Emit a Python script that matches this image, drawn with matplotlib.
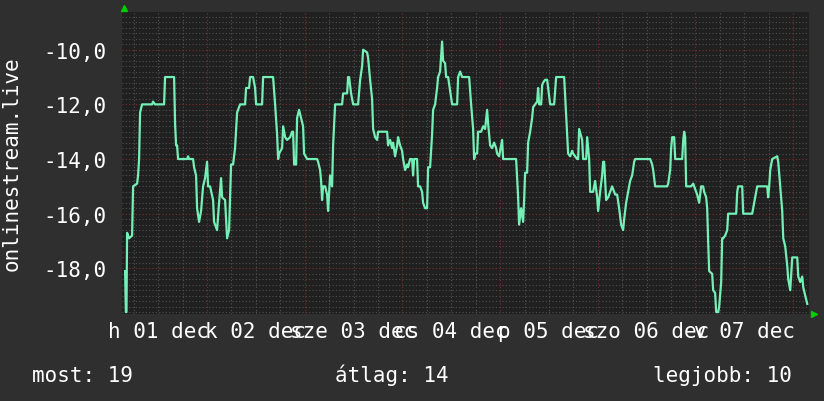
import matplotlib
matplotlib.use("Agg")
import matplotlib.pyplot as plt

# hours since 2025-12-01 00:00 and position (negated rank)
hours = [3.86, 4.05, 4.2, 4.35, 4.84, 5.58, 5.82, 6.81, 7.05, 7.30, 7.54, 8.03,
         10.49, 10.73, 11.23, 13.44, 13.68, 15.90, 16.14, 16.39, 16.63, 16.88,
         19.10, 19.34, 19.58, 20.56, 20.81, 21.30, 21.55, 22.04, 22.53, 23.02,
         23.51, 24.00, 24.25, 24.74, 25.48, 25.72, 26.46, 26.95, 27.44, 27.69,
         28.43, 28.92, 29.41, 29.90, 30.39, 30.88, 31.38, 32.11, 33.34, 33.59,
         34.32, 34.57, 35.31, 35.80, 36.05, 37.52, 37.77, 40.22, 40.72, 41.21,
         41.46, 41.70, 42.44, 42.69, 43.18, 43.67, 44.41, 44.90, 45.14, 45.39,
         45.88, 46.12, 46.61, 47.10, 47.59, 47.84, 48.58, 51.03, 51.28, 51.77,
         52.02, 52.26, 52.51, 53.00, 53.49, 53.74, 54.23, 54.72, 54.97, 55.46,
         57.18, 57.43, 58.41, 58.66, 58.90, 59.39, 59.89, 61.11, 61.61, 62.10,
         62.34, 63.33, 63.57, 64.06, 64.55, 64.80, 65.29, 65.78, 66.03, 68.24,
         68.48, 68.98, 69.47, 69.71, 70.20, 70.70, 70.94, 71.43, 71.92, 72.17,
         72.66, 73.15, 73.39, 73.88, 74.38, 74.62, 74.87, 75.60, 75.85, 76.34,
         76.83, 77.08, 77.57, 78.06, 78.31, 78.80, 79.29, 79.54, 80.03, 80.52,
         80.77, 81.26, 81.75, 82.00, 82.49, 82.74, 83.23, 83.72, 84.21, 85.44,
         85.69, 86.18, 86.67, 88.39, 88.88, 89.37, 89.62, 89.87, 90.36, 90.60,
         91.34, 91.83, 92.32, 92.81, 93.06, 93.55, 94.04, 94.53, 95.02, 95.27,
         95.76, 96.25, 96.50, 96.74, 99.94, 100.18, 100.43, 100.67, 101.16, 101.66,
         101.90, 102.15, 102.64, 102.89, 103.38, 103.87, 104.12, 104.61, 105.10, 105.35,
         105.59, 106.09, 106.33, 106.58, 107.07, 107.56, 107.81, 108.30, 109.28, 109.77,
         111.74, 112.23, 112.72, 113.21, 113.70, 113.95, 114.44, 114.93, 115.18, 115.42,
         116.16, 116.41, 117.14, 117.39, 117.88, 118.13, 118.86, 119.35, 119.85, 120.09,
         120.58, 121.07, 121.32, 121.57, 122.06, 122.55, 123.53, 123.78, 124.27, 124.76,
         125.25, 125.74, 126.23, 126.48, 126.97, 127.46, 127.95, 128.45, 128.94, 129.18,
         132.87, 133.36, 133.61, 134.10, 137.05, 137.30, 137.79, 138.03, 138.28, 138.77,
         139.02, 140.74, 141.00, 141.23, 141.47, 141.72, 142.21, 142.95, 143.44, 143.68,
         144.17, 144.42, 144.91, 145.40, 145.89, 146.14, 146.63, 146.88, 147.12, 147.37,
         148.11, 148.35, 148.84, 149.09, 149.58, 149.83, 150.32, 150.57, 150.81, 151.30,
         151.80, 152.04, 154.01, 154.26, 154.50, 155.49, 155.73, 157.94, 158.19, 158.68,
         159.17, 161.63, 161.87, 162.12, 162.37, 162.86, 164.09, 164.34, 164.83, 165.32,
         165.57, 166.06, 166.55, 166.80, 167.29, 167.78, 168.03, 169.01, 169.26, 169.75,
         170.24, 170.49, 170.98, 171.47]
rank = [-18.1, -19.6, -19.6, -16.7, -16.9, -16.8, -15.0, -14.9, -14.6, -14.0, -12.3, -12.0,
        -12.0, -11.9, -12.0, -12.0, -11.0, -11.0, -12.7, -13.5, -13.5, -14.0,
        -14.0, -13.9, -14.0, -14.0, -14.3, -14.6, -15.8, -16.3, -15.9, -15.0,
        -14.7, -14.1, -15.0, -15.0, -15.5, -16.3, -16.6, -15.6, -14.7, -15.4,
        -15.5, -16.9, -16.6, -14.2, -14.2, -13.6, -12.3, -12.0, -12.0, -11.4,
        -11.4, -11.0, -11.0, -11.4, -12.0, -12.0, -11.0, -11.0, -12.0, -13.1,
        -14.0, -13.8, -13.6, -12.8, -13.2, -13.3, -13.2, -13.0, -13.0, -14.2,
        -14.2, -12.5, -12.2, -12.5, -12.8, -13.8, -14.0, -14.0, -14.1, -14.4,
        -14.8, -15.5, -15.0, -15.0, -15.3, -15.9, -14.6, -15.0, -13.5, -12.0,
        -12.0, -11.6, -11.6, -11.0, -11.0, -11.6, -12.0, -12.0, -11.1, -10.6,
        -10.0, -10.1, -10.3, -11.1, -11.8, -12.9, -13.2, -13.3, -13.0, -13.0,
        -13.5, -13.3, -13.6, -13.4, -13.9, -13.5, -13.2, -13.5, -13.7, -14.0,
        -14.4, -14.2, -14.3, -14.0, -14.0, -14.6, -14.0, -14.0, -15.0, -15.0,
        -15.2, -15.6, -15.8, -15.8, -14.3, -14.3, -13.1, -12.2, -12.0, -11.4,
        -11.0, -10.8, -9.7, -10.4, -10.5, -11.0, -11.0, -11.5, -12.0, -12.0,
        -11.0, -10.8, -11.0, -11.0, -12.0, -12.9, -14.0, -13.8, -13.8, -13.0,
        -13.0, -12.8, -12.9, -12.2, -12.7, -13.5, -13.6, -13.4, -13.6, -13.8,
        -13.9, -13.5, -13.3, -14.0, -14.0, -14.7, -15.4, -16.4, -15.8, -16.3,
        -15.5, -14.5, -14.5, -13.4, -13.0, -12.5, -12.1, -12.0, -11.9, -11.4,
        -12.0, -12.0, -11.3, -11.2, -11.1, -11.1, -11.4, -12.0, -12.0, -11.0,
        -11.0, -12.4, -13.8, -13.9, -13.7, -13.8, -13.9, -14.0, -14.0, -12.9,
        -13.3, -14.0, -14.0, -13.2, -14.0, -15.2, -15.2, -14.8, -15.4, -15.9,
        -15.2, -14.6, -14.1, -14.1, -15.5, -15.4, -15.0, -15.1, -15.3, -15.3,
        -15.8, -16.4, -16.6, -16.2, -15.6, -15.2, -14.8, -14.6, -14.1, -14.0,
        -14.0, -14.2, -14.4, -15.0, -15.0, -14.9, -14.4, -13.6, -13.2, -13.2,
        -14.0, -14.0, -13.3, -13.0, -13.2, -15.0, -15.0, -15.0, -14.9, -15.0,
        -15.2, -15.3, -15.6, -15.0, -15.0, -15.2, -15.4, -15.8, -17.0, -18.1,
        -18.2, -18.8, -18.9, -19.6, -19.6, -19.4, -18.5, -16.9, -16.9, -16.8,
        -16.6, -16.0, -16.0, -15.2, -15.0, -15.0, -16.0, -16.0, -15.8, -15.4,
        -15.0, -15.0, -15.4, -15.0, -14.4, -14.0, -13.9, -14.1, -15.0, -15.9,
        -16.9, -17.2, -17.9, -18.4, -18.8, -17.6, -17.6, -17.6, -18.3, -18.5,
        -18.3, -18.7, -19.0, -19.3]

day_labels = ["h 01 dec", "k 02 dec", "sze 03 dec", "cs 04 dec",
              "p 05 dec", "szo 06 dec", "v 07 dec"]
y_ticks = [-18, -16, -14, -12, -10]
summary = ["most: 19", "átlag: 14", "legjobb: 10"]

plt.rcParams["font.family"] = "DejaVu Sans Mono"
fs = 15

fig = plt.figure(figsize=(8.24, 4.02), dpi=100, facecolor="#2f2f2f")
ax = fig.add_axes([122 / 824, 87 / 402, 687 / 824, 302 / 402])
ax.set_facecolor("#202020")
ax.set_xlim(3.1, 171.9)
ax.set_ylim(-19.67, -8.62)

# grid, rrdtool style
dot = (0, (1, 2))
for h in range(6, 172, 6):
    if h % 24 == 0:
        ax.axvline(h, color="#7a2e2e", lw=0.8, ls=dot, zorder=1)
    else:
        ax.axvline(h, color="#555555", lw=0.8, ls=dot, zorder=1)
for i in range(-98, -43):
    v = i * 0.2
    if i % 10 == 0:
        ax.axhline(v, color="#7a2e2e", lw=0.8, ls=dot, zorder=1)
    else:
        ax.axhline(v, color="#505050", lw=0.8, ls=dot, zorder=1)

ax.plot(hours, rank, color="#74f0b6", lw=1.6, zorder=3)

for s in ax.spines.values():
    s.set_visible(False)

ax.set_yticks(y_ticks, [f"{t},0" for t in y_ticks])
ax.set_xticks([12 + 24 * i for i in range(len(day_labels))], day_labels)
ax.tick_params(axis="y", length=0, colors="white", labelsize=fs, pad=11)
ax.tick_params(axis="x", length=0, colors="white", labelsize=fs, pad=5)

# axis arrows
ax.plot([0.003], [1.012], marker="^", color="#00cc00", ms=5,
        transform=ax.transAxes, clip_on=False)
ax.plot([1.008], [0.0], marker=">", color="#00cc00", ms=5,
        transform=ax.transAxes, clip_on=False)

fig.text(12 / 824, 1 - 164 / 402, "onlinestream.live", rotation=90,
         ha="center", va="center", color="white", fontsize=fs)

fig.text(32 / 824, 20 / 402, summary[0], ha="left", va="baseline",
         color="white", fontsize=fs)
fig.text(335 / 824, 20 / 402, summary[1], ha="left", va="baseline",
         color="white", fontsize=fs)
fig.text(792 / 824, 20 / 402, summary[2], ha="right", va="baseline",
         color="white", fontsize=fs)

fig.savefig("out.png", dpi=100, facecolor=fig.get_facecolor())
